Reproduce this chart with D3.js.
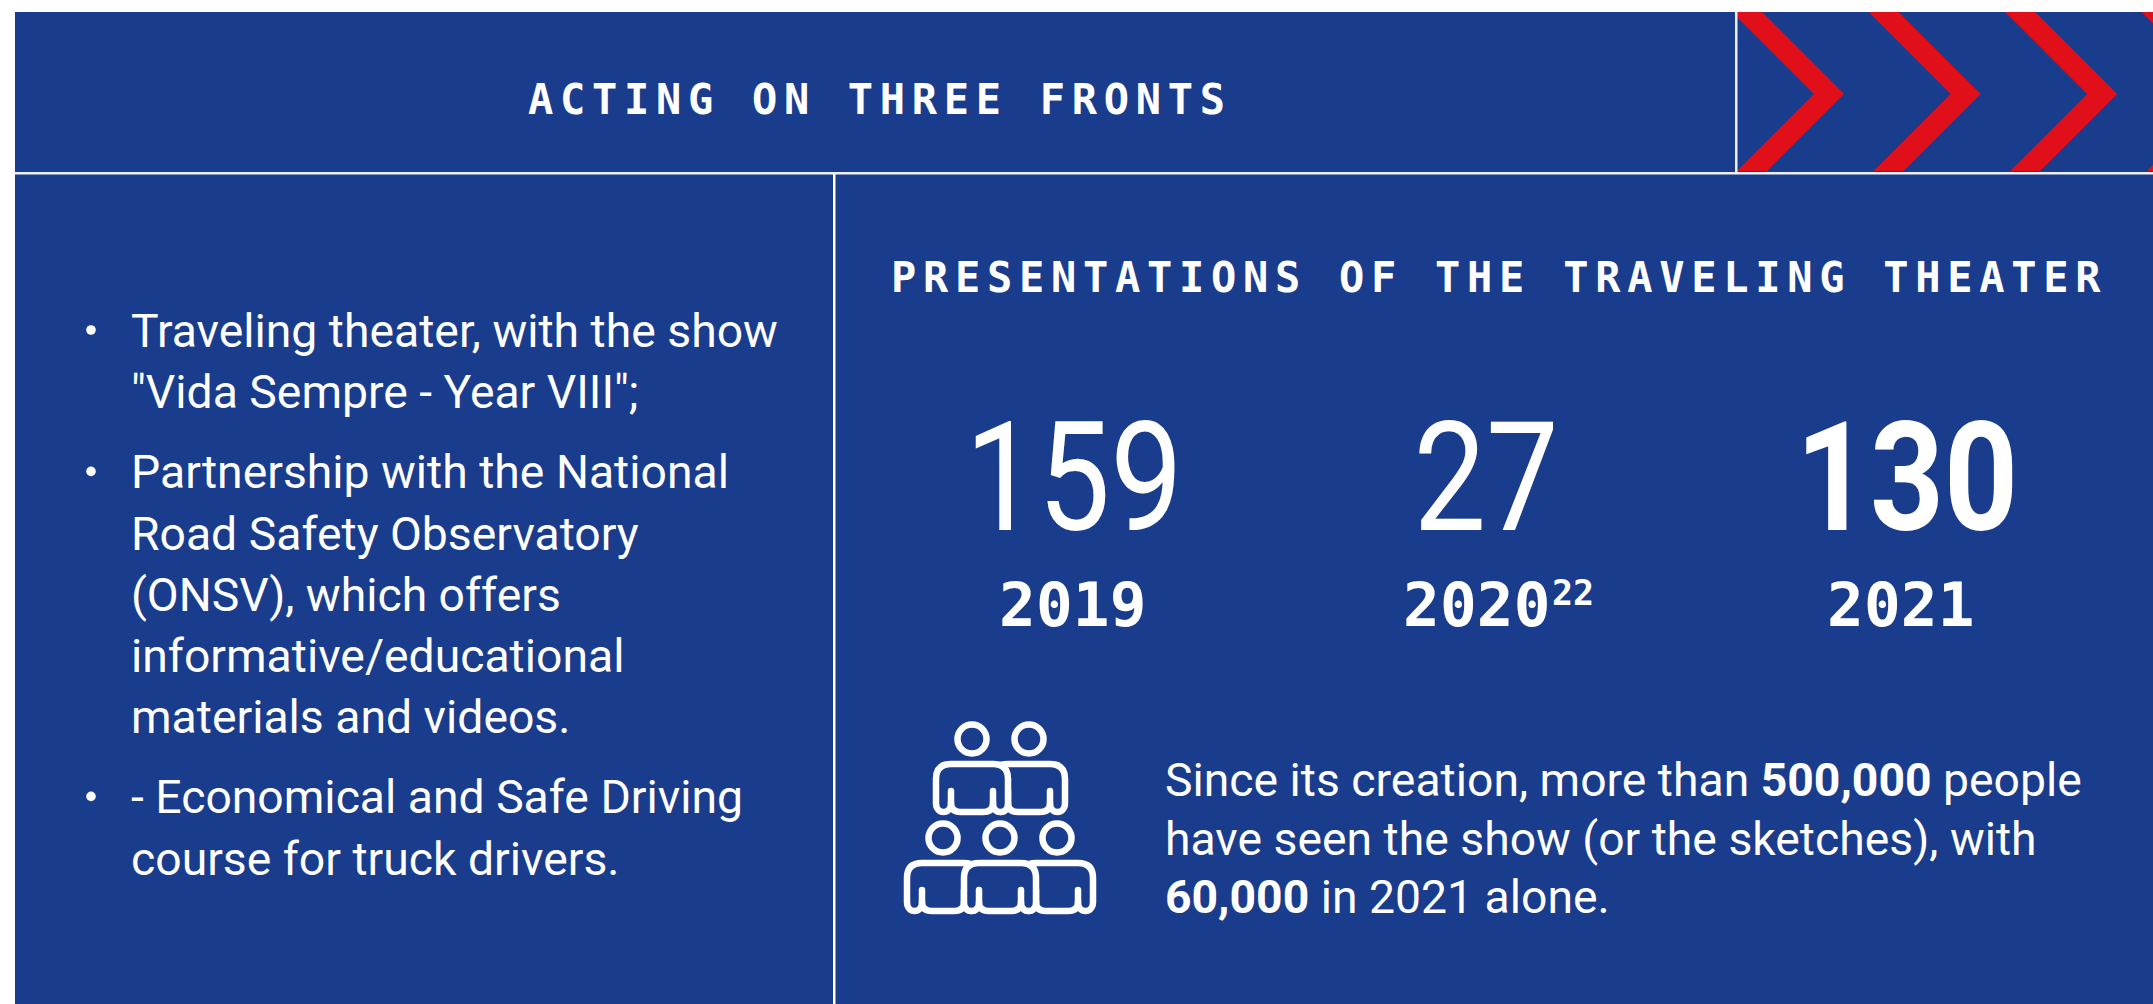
<!DOCTYPE html>
<html><head><meta charset="utf-8"><script src="https://cdn.jsdelivr.net/npm/d3@7"></script>
<style>html,body{margin:0;padding:0;background:#fff;overflow:hidden}svg{display:block}</style></head>
<body><div id="c"></div>
<script>
const title = "ACTING ON THREE FRONTS";
const subtitle = "PRESENTATIONS OF THE TRAVELING THEATER";
const counts = ["159", "27", "130"];
const years = ["2019", "2020", "2021"];
const yearNote = ["", "22", ""];
const countWeights = [400, 400, 700];
const bulletItems = [
  ["Traveling theater, with the show", "\"Vida Sempre - Year VIII\";"],
  ["Partnership with the National", "Road Safety Observatory", "(ONSV), which offers", "informative/educational", "materials and videos."],
  ["- Economical and Safe Driving", "course for truck drivers."]
];
const noteLines = [
  [["Since its creation, more than ",400],["500,000",700],[" people",400]],
  [["have seen the show (or the sketches), with",400]],
  [["60,000",700],[" in 2021 alone.",400]]
];
const chevrons = [0,1,2,3];
const peopleBack = [[1,0],[0,1],[2,1]];
const peopleFront = [[0,0],[1,1]];

const W=2153,H=1004,BG="#1a3c8c",RED="#e10f19",FG="#fff";
const MONO="'DejaVu Sans Mono',monospace",SANS="Roboto,sans-serif";
const svg=d3.select("#c").append("svg").attr("width",W).attr("height",H);
svg.append("rect").attr("x",15).attr("y",12).attr("width",W-15).attr("height",H-12).attr("fill",BG);

// chevrons
const defs=svg.append("defs");
defs.append("clipPath").attr("id","band").append("rect").attr("x",1737).attr("y",12).attr("width",W-1737).attr("height",159);
const cx=d3.scaleLinear().domain([0,3]).range([1844,2253.7]);
const line=d3.line();
svg.append("g").attr("clip-path","url(#band)").selectAll("path").data(chevrons).join("path")
  .attr("fill",RED)
  .attr("d",d=>{const t=cx(d),m=94,h=110;return line([[t,m],[t-h,m-h],[t-h-30,m-h],[t-30,m],[t-30-h,m+h],[t-h,m+h]])+"Z";});

// rules
svg.append("rect").attr("x",15).attr("y",172).attr("width",W-15).attr("height",2.5).attr("fill",FG).attr("opacity",.92);
svg.append("rect").attr("x",1735).attr("y",12).attr("width",2.5).attr("height",162).attr("fill",FG).attr("opacity",.92);
svg.append("rect").attr("x",833).attr("y",174).attr("width",2.5).attr("height",H-174).attr("fill",FG);

function mono(t,x,y,size,ls,anchor){return svg.append("text").text(t).attr("x",x).attr("y",y).attr("font-family",MONO).attr("font-weight",700)
  .attr("font-size",size).attr("letter-spacing",ls).attr("fill",FG).attr("text-anchor",anchor||"start");}
mono(title,528,114,42,6.7);
mono(subtitle,891,292,42,6.72);

// counts
const countX=d3.scaleOrdinal().domain(counts).range([1074,1486,1907]);
svg.selectAll("text.count").data(counts).join("text").attr("class","count").text(d=>d)
  .attr("transform",d=>`translate(${countX(d)},530) scale(0.85,1)`).attr("text-anchor","middle").attr("font-family",SANS)
  .attr("font-size",152).attr("font-weight",(d,i)=>countWeights[i]).attr("fill",FG);
const yearX=d3.scaleOrdinal().domain(years).range([999,1403,1827]);
years.forEach((y,i)=>{mono(y,yearX(y),626,61,0.2);
  if(yearNote[i]) mono(yearNote[i],yearX(y)+149,605,35,0);});

// bullets
const lineH=61.2,itemGap=19;
let by=347;
bulletItems.forEach(item=>{
  svg.append("circle").attr("cx",91).attr("cy",by-17).attr("r",4.8).attr("fill",FG);
  item.forEach(l=>{svg.append("text").text(l).attr("x",131).attr("y",by).attr("font-family",SANS).attr("font-size",46.3).attr("fill",FG);by+=lineH;});
  by+=itemGap;
});

// note
noteLines.forEach((runs,i)=>{
  const t=svg.append("text").attr("x",1165).attr("y",796+i*58.5).attr("font-family",SANS).attr("font-size",46.3).attr("fill",FG).style("white-space","pre");
  runs.forEach(r=>t.append("tspan").text(r[0]).attr("font-weight",r[1]));
});

// icon
const icon=svg.append("g").attr("fill",BG).attr("stroke",FG).attr("stroke-width",6.5).attr("stroke-linecap","round").attr("stroke-linejoin","round");
const rowTop=[764,863],colStep=57,rowX=[972,943];
function person(c,r){
  const x=rowX[r]+c*colStep,t=rowTop[r],b=t+48,s=t+27,e=b-9,k=b+3;
  icon.append("circle").attr("cx",x).attr("cy",t-25).attr("r",14.5);
  const p=d3.path();
  p.moveTo(x-21,e);p.bezierCurveTo(x-21,k,x-36,k,x-36,e);
  p.lineTo(x-36,t+15);p.quadraticCurveTo(x-36,t,x-21,t);p.lineTo(x+21,t);p.quadraticCurveTo(x+36,t,x+36,t+15);
  p.lineTo(x+36,e);p.bezierCurveTo(x+36,k,x+21,k,x+21,e);
  p.quadraticCurveTo(x+21,b,x+11,b);p.lineTo(x-11,b);p.quadraticCurveTo(x-21,b,x-21,e);p.closePath();
  icon.append("path").attr("d",p.toString());
  icon.append("path").attr("fill","none").attr("d",`M${x-21},${s}V${e}M${x+21},${s}V${e}`);
}
peopleBack.forEach(d=>person(d[0],d[1]));
peopleFront.forEach(d=>person(d[0],d[1]));
</script></body></html>
